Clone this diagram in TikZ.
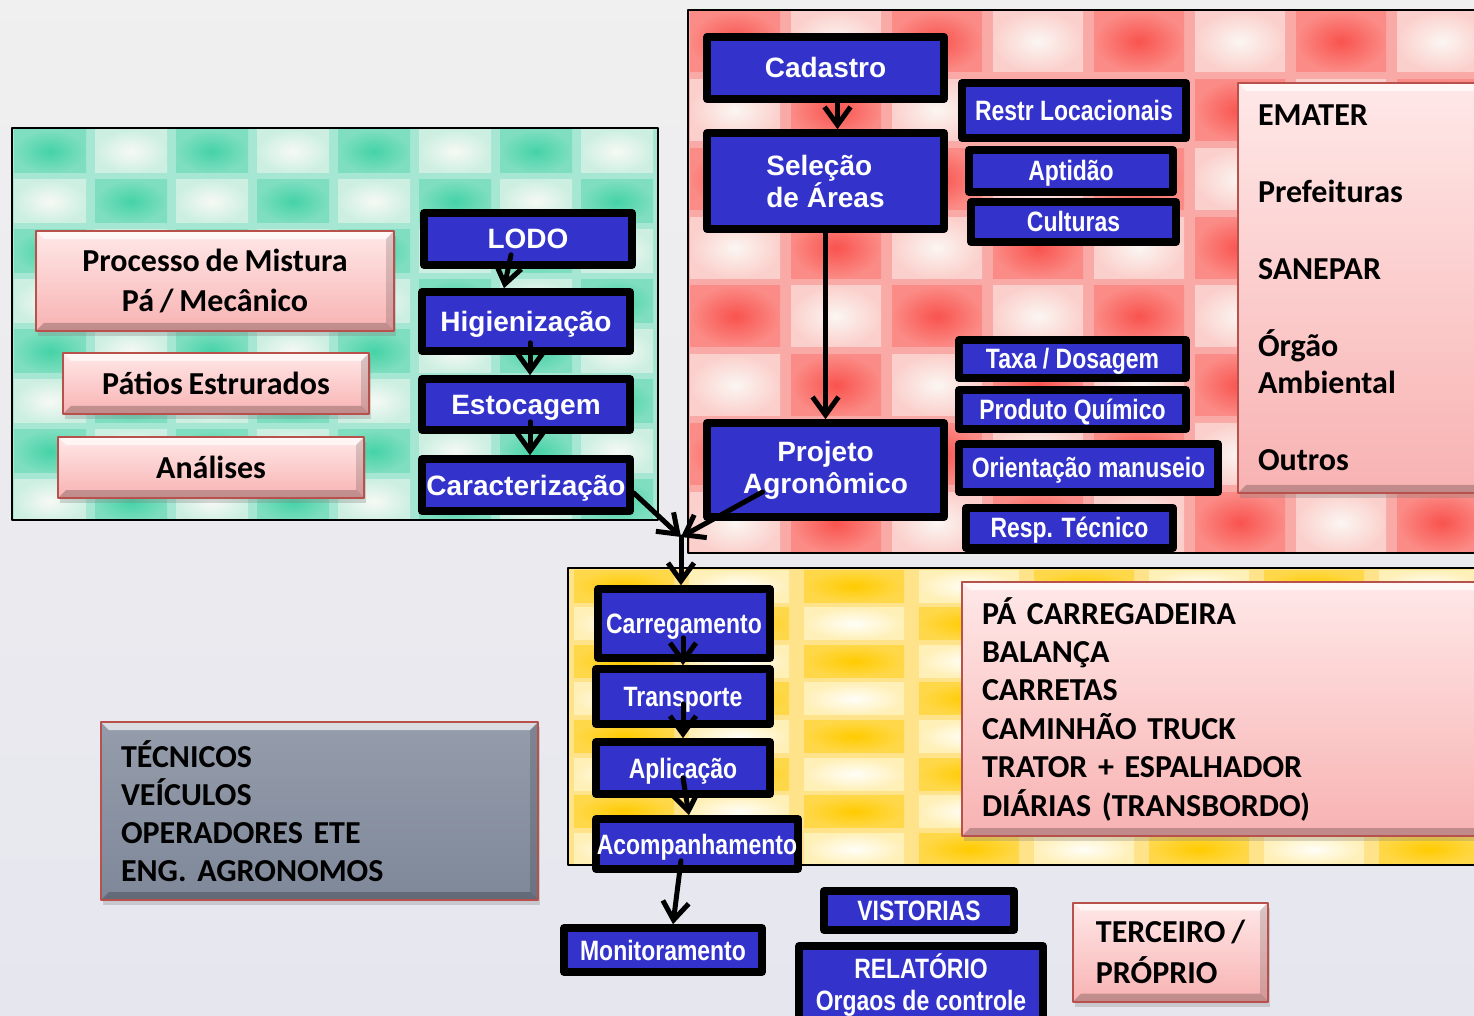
\documentclass[tikz,border=0pt]{standalone}
\usepackage{fontspec}
\usepackage{graphicx}
\newfontfamily\arialfont{Liberation Sans}
\newfontfamily\calfont{Carlito}[WordSpace=0.8]
\usetikzlibrary{arrows.meta,calc,shadows}
\definecolor{boxblue}{HTML}{3333CC}
\definecolor{pinktop}{HTML}{FFE8E8}
\definecolor{pinkbot}{HTML}{F8B2B2}
\definecolor{pinkedge}{HTML}{B8504C}
\definecolor{graytop}{HTML}{959DAC}
\definecolor{graybot}{HTML}{7F8899}
% plaid colours (centre / edge of each cell, gap between cells)
\definecolor{gin0}{HTML}{45D3A6}\definecolor{gout0}{HTML}{7FDEC0}
\definecolor{gin1}{HTML}{F7F9F4}\definecolor{gout1}{HTML}{CDEFE2}
\definecolor{ggap}{HTML}{A5E7D2}
\definecolor{rin0}{HTML}{F9534E}\definecolor{rout0}{HTML}{FB8B86}
\definecolor{rin1}{HTML}{FBF6F2}\definecolor{rout1}{HTML}{FBD0CC}
\definecolor{rgap}{HTML}{F9AAA6}
\definecolor{yin0}{HTML}{FFCB00}\definecolor{yout0}{HTML}{FFD84A}
\definecolor{yin1}{HTML}{FFFEF8}\definecolor{yout1}{HTML}{FFF0B8}
\definecolor{ygap}{HTML}{FFE38A}
\newcommand{\nrw}[1]{\scalebox{0.82}[1]{#1}}
\tikzset{
  bluebox/.style={draw=black,line width=3.8pt,fill=boxblue,text=white,inner sep=0pt,align=center,
    font=\arialfont\bfseries\fontsize{14}{16}\selectfont},
  oneline/.style={text height=10.5pt,text depth=0.5pt},
  bevel/.style={path picture={
    \fill[white,opacity=.65] (path picture bounding box.north west) -- (path picture bounding box.north east)
      -- ([xshift=-4pt,yshift=-4pt]path picture bounding box.north east) -- ([xshift=4pt,yshift=-4pt]path picture bounding box.north west) -- cycle;
    \fill[black,opacity=.22] (path picture bounding box.south west) -- (path picture bounding box.south east)
      -- ([xshift=-4pt,yshift=4pt]path picture bounding box.south east) -- ([xshift=4pt,yshift=4pt]path picture bounding box.south west) -- cycle;
    \fill[black,opacity=.15] (path picture bounding box.north east) -- (path picture bounding box.south east)
      -- ([xshift=-4pt,yshift=4pt]path picture bounding box.south east) -- ([xshift=-4pt,yshift=-4pt]path picture bounding box.north east) -- cycle;}},
  pinkbox/.style={draw=pinkedge,line width=1pt,top color=pinktop,bottom color=pinkbot,bevel,
    drop shadow={shadow xshift=1pt,shadow yshift=-2.5pt,opacity=.3},inner sep=0pt,text=black,
    font=\calfont\bfseries\fontsize{16}{20}\selectfont},
  graybox/.style={pinkbox,top color=graytop,bottom color=graybot},
  panel/.style={draw=black,line width=1pt},
  flow/.style={-{Straight Barb[length=9pt,width=13pt]},line width=2.5pt},
}
\begin{document}
\begin{tikzpicture}[x=0.5pt,y=-0.5pt,line join=round,line cap=round]
\useasboundingbox (0,0) rectangle (1474,1016);
\shade[top color=gray!12,middle color={rgb,255:red,246;green,233;blue,223},bottom color={rgb,255:red,230;green,230;blue,239}] (0,0) rectangle (1474,1016);

% painel verde
\fill[ggap] (12,128) rectangle (658,520);
\begin{scope}
  \clip (12,128) rectangle (658,520);
  \foreach \k in {0,...,7}{
    \foreach \j in {0,...,7}{
      \pgfmathtruncatemacro\t{mod(\k+\j,2)}
      \shade[inner color=gin\t,outer color=gout\t] ({14+81*\k},{130+50*\j}) rectangle ++(72,43);
    }
  }
\end{scope}
\draw[panel] (12,128) rectangle (658,520);

% painel vermelho
\fill[rgap] (688,10) rectangle (1480,553);
\begin{scope}
  \clip (688,10) rectangle (1480,553);
  \foreach \k in {0,...,7}{
    \foreach \j in {0,...,7}{
      \pgfmathtruncatemacro\t{mod(\k+\j,2)}
      \shade[inner color=rin\t,outer color=rout\t] ({690+101*\k},{11+68.75*\j}) rectangle ++(90,61);
    }
  }
\end{scope}
\draw[panel] (688,10) rectangle (1480,553);

% painel amarelo
\fill[ygap] (568,568) rectangle (1480,865);
\begin{scope}
  \clip (568,568) rectangle (1480,865);
  \foreach \k in {0,...,9}{
    \foreach \j in {0,...,7}{
      \pgfmathtruncatemacro\t{mod(\k+\j+1,2)}
      \shade[inner color=yin\t,outer color=yout\t] ({459+115*\k},{570+37.6*\j}) rectangle ++(100,32);
    }
  }
\end{scope}
\draw[panel] (568,568) rectangle (1480,865);

% caixas rosa
\node[pinkbox,minimum width=179pt,minimum height=50pt,align=center] (mist) at (215,281) {Processo de Mistura\\Pá / Mecânico};
\node[pinkbox,minimum width=153pt,minimum height=30.5pt] (patios) at (216,383.5) {Pátios Estrurados};
\node[pinkbox,minimum width=153pt,minimum height=30.5pt] (anal) at (211,467.5) {Análises};
\node[pinkbox,anchor=west,minimum width=127pt,minimum height=205pt,inner xsep=10pt,text width=107pt,align=left,
  font=\calfont\bfseries\fontsize{16}{18.5}\selectfont] (orgs) at (1237,288)
  {EMATER\\[20pt]Prefeituras\\[20pt]SANEPAR\\[20pt]Órgão\\Ambiental\\[20pt]Outros};
\node[pinkbox,anchor=west,minimum width=265pt,minimum height=127pt,inner xsep=10pt,text width=245pt,align=left,
  font=\calfont\bfseries\fontsize{16}{19.2}\selectfont] (equip) at (961,709)
  {PÁ CARREGADEIRA\\BALANÇA\\CARRETAS\\CAMINHÃO TRUCK\\TRATOR + ESPALHADOR\\DIÁRIAS (TRANSBORDO)};
\node[pinkbox,minimum width=97.5pt,minimum height=49.5pt,align=left,
  font=\calfont\bfseries\fontsize{16}{20.5}\selectfont] (terc) at (1170.5,952) {TERCEIRO /\\PRÓPRIO};
\node[graybox,anchor=west,minimum width=218.5pt,minimum height=89pt,inner xsep=10pt,text width=198.5pt,align=left,
  font=\calfont\bfseries\fontsize{16}{19}\selectfont] (recursos) at (100,811)
  {TÉCNICOS\\VEÍCULOS\\OPERADORES ETE\\ENG. AGRONOMOS};

% caixas azuis
\node[bluebox,oneline,minimum width=118.5pt,minimum height=31pt] (cad) at (825.5,68) {Cadastro};
\node[bluebox,minimum width=118.5pt,minimum height=48pt,align=left] (sel) at (825.5,181) {Seleção\\de Áreas};
\node[bluebox,minimum width=118.5pt,minimum height=47pt] (proj) at (825.5,470) {Projeto\\Agronômico};
\node[bluebox,oneline,minimum width=112pt,minimum height=27.5pt] (restr) at (1074,110.5) {\nrw{Restr Locacionais}};
\node[bluebox,oneline,minimum width=102pt,minimum height=21pt] (apt) at (1071,171) {\nrw{Aptidão}};
\node[bluebox,oneline,minimum width=102.5pt,minimum height=20pt] (cult) at (1073.5,222) {\nrw{Culturas}};
\node[bluebox,oneline,minimum width=113.5pt,minimum height=19pt] (taxa) at (1072.5,359) {\nrw{Taxa / Dosagem}};
\node[bluebox,oneline,minimum width=113.5pt,minimum height=19.5pt] (prod) at (1072.5,409.5) {\nrw{Produto Químico}};
\node[bluebox,oneline,minimum width=129.5pt,minimum height=24pt] (orient) at (1088.5,468) {\nrw{Orientação manuseio}};
\node[bluebox,oneline,minimum width=103.5pt,minimum height=20pt] (resp) at (1069.5,528) {\nrw{Resp. Técnico}};
\node[bluebox,oneline,minimum width=104pt,minimum height=26pt] (lodo) at (528,239) {LODO};
\node[bluebox,oneline,minimum width=104pt,minimum height=29.5pt] (higi) at (526,321.5) {Higienização};
\node[bluebox,oneline,minimum width=104pt,minimum height=25.5pt] (esto) at (526,404.5) {Estocagem};
\node[bluebox,oneline,minimum width=104pt,minimum height=26pt] (carac) at (526,485) {Caracterização};
\node[bluebox,oneline,minimum width=86pt,minimum height=34.5pt] (carreg) at (684,623.5) {\nrw{Carregamento}};
\node[bluebox,oneline,minimum width=87pt,minimum height=27.5pt] (transp) at (683,696.5) {\nrw{Transporte}};
\node[bluebox,oneline,minimum width=87pt,minimum height=26pt] (aplic) at (683,768) {\nrw{Aplicação}};
\node[bluebox,oneline,minimum width=101pt,minimum height=25pt] (acomp) at (697,844) {\nrw{Acompanhamento}};
\node[bluebox,oneline,minimum width=99pt,minimum height=22pt] (monit) at (663,950) {\nrw{Monitoramento}};
\node[bluebox,oneline,minimum width=95pt,minimum height=19.5pt] (vist) at (919,910.5) {\nrw{VISTORIAS}};
\node[bluebox,minimum width=122pt,minimum height=39pt] (relat) at (921,985) {\nrw{RELATÓRIO}\\\nrw{Orgaos de controle}};

\coordinate (junc) at (681,537);

% setas
\draw[flow] ([xshift=6pt]cad.south) -- ([xshift=6pt]sel.north);
\draw[flow] (sel) -- (proj);
\draw[flow] ([xshift=-8.5pt,yshift=7pt]lodo.south) -- ([xshift=-11pt]higi.north);
\draw[flow] ([xshift=2pt,yshift=6pt]higi.south) -- ([xshift=2pt]esto.north);
\draw[flow] ([xshift=2pt,yshift=6pt]esto.south) -- ([xshift=2pt]carac.north);
\draw[flow] ([yshift=-4pt]carac.east) -- (junc);
\draw[flow] ($(proj.center)+(-63,22)$) -- (junc);
\draw[flow] (junc) -- (junc |- carreg.north);
\draw[flow] ([xshift=-0.5pt,yshift=12pt]carreg.south) -- (transp.north);
\draw[flow] ([yshift=12pt]transp.south) -- (aplic.north);
\draw[flow] ([yshift=10pt]aplic.south) -- ([xshift=-4pt]acomp.north);
\draw[flow] ([xshift=-8pt,yshift=6pt]acomp.south) -- ([xshift=5pt]monit.north);
\end{tikzpicture}
\end{document}
